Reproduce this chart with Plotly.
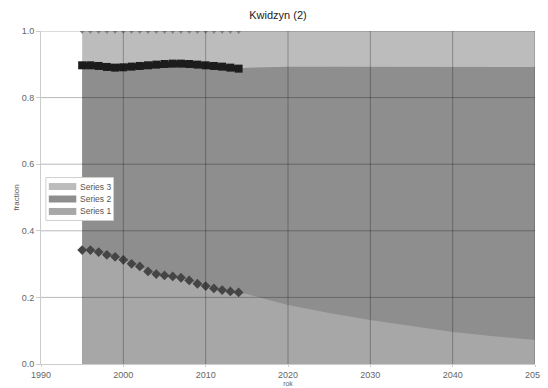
import plotly.graph_objects as go

# historical years with observed values
hist_years = list(range(1995, 2015))
# bottom band (Series 1) observed - diamonds
s1_hist = [0.342, 0.342, 0.336, 0.328, 0.322, 0.313, 0.301, 0.293, 0.278, 0.270,
           0.266, 0.263, 0.259, 0.251, 0.241, 0.234, 0.227, 0.222, 0.218, 0.215]
# top of middle band (Series 2) observed - squares
s2_hist = [0.897, 0.897, 0.895, 0.892, 0.890, 0.891, 0.893, 0.895, 0.897, 0.899,
           0.901, 0.902, 0.902, 0.901, 0.899, 0.897, 0.895, 0.893, 0.890, 0.887]
# top band (Series 3) observed - triangles
s3_hist = [1.0] * 20

# projection
proj_years = [2015, 2020, 2025, 2030, 2035, 2040, 2045, 2050]
s1_proj = [0.210, 0.177, 0.153, 0.132, 0.113, 0.096, 0.083, 0.072]
s2_proj = [0.890, 0.893, 0.893, 0.893, 0.893, 0.892, 0.892, 0.892]
s3_proj = [1.0] * 8

series_names = ["Series 3", "Series 2", "Series 1"]
x_ticks = [1990, 2000, 2010, 2020, 2030, 2040, 2050]
y_ticks = [0.0, 0.2, 0.4, 0.6, 0.8, 1.0]

C3, C2, C1 = "#bcbcbc", "#8e8e8e", "#a7a7a7"
colors = [C3, C2, C1]

fig = go.Figure()
years = hist_years + proj_years
for name, hist, proj, col in zip(series_names,
                                 (s3_hist, s2_hist, s1_hist),
                                 (s3_proj, s2_proj, s1_proj), colors):
    fig.add_trace(go.Scatter(
        x=years, y=hist + proj, name=name, mode="lines",
        line=dict(width=0, color=col), fill="tozeroy", fillcolor=col,
        hoverinfo="skip", showlegend=False,
    ))

# observed markers
fig.add_trace(go.Scatter(
    x=hist_years, y=s3_hist, mode="markers", showlegend=False,
    marker=dict(symbol="triangle-down", size=6, color="#858585"),
))
fig.add_trace(go.Scatter(
    x=hist_years, y=s2_hist, mode="lines+markers", showlegend=False,
    line=dict(color="#1c1c1c", width=6),
    marker=dict(symbol="square", size=8, color="#1c1c1c"),
))
fig.add_trace(go.Scatter(
    x=hist_years, y=s1_hist, mode="markers", showlegend=False,
    marker=dict(symbol="diamond", size=7.5, color="#454545"),
))

# grid drawn over the areas
grid = "rgba(0,0,0,0.28)"
for xv in x_ticks[1:]:
    fig.add_shape(type="line", xref="x", yref="y", x0=xv, x1=xv, y0=0, y1=1,
                  line=dict(color=grid, width=1), layer="above")
for yv in y_ticks[1:]:
    fig.add_shape(type="line", xref="x", yref="y", x0=1990, x1=2050, y0=yv, y1=yv,
                  line=dict(color=grid, width=1), layer="above")

# compact legend box (paper coords; plot area is 504 x 334 px)
PW, PH = 504.0, 334.0
def px(dx):
    return dx / PW
def py(dy):
    return dy / PH

lx0, lx1 = px(5), px(74)
ly0, ly1 = py(144), py(187)
fig.add_shape(type="rect", xref="paper", yref="paper", x0=lx0, x1=lx1, y0=ly0, y1=ly1,
              fillcolor="white", line=dict(color="#cfcfcf", width=1), layer="above")
for i, (name, col) in enumerate(zip(series_names, colors)):
    yc = py(178 - 12.5 * i)
    fig.add_shape(type="rect", xref="paper", yref="paper",
                  x0=px(8), x1=px(36), y0=yc - py(3.5), y1=yc + py(3.5),
                  fillcolor=col, line=dict(width=0), layer="above")
    fig.add_annotation(xref="paper", yref="paper", x=px(38), y=yc, text=name,
                       showarrow=False, xanchor="left", yanchor="middle",
                       font=dict(size=8.5, color="#555"))

# page body keeps its default 8px margin, so the figure is 8px smaller
fig.update_layout(
    width=540, height=380,
    margin=dict(l=33, r=3, t=23, b=23),
    paper_bgcolor="white", plot_bgcolor="white",
    font=dict(family="Liberation Sans, Arial, sans-serif", size=9, color="#555"),
    title=dict(text="Kwidzyn (2)", x=0.5, xanchor="center", y=0.982, yanchor="middle",
               font=dict(size=11, color="#222")),
    showlegend=False,
    xaxis=dict(range=[1990, 2050], tickvals=x_ticks, showgrid=False,
               showline=True, linecolor="#cccccc", zeroline=False,
               ticks="outside", ticklen=2, tickcolor="#cccccc",
               ticklabeloverflow="allow",
               tickfont=dict(size=9, color="#666"),
               title=dict(text="rok", font=dict(size=7, color="#666"), standoff=0)),
    yaxis=dict(range=[0, 1.0], tickvals=y_ticks, tickformat=".1f", showgrid=False,
               showline=True, linecolor="#cccccc", zeroline=False,
               ticks="outside", ticklen=4, tickcolor="#cccccc",
               tickfont=dict(size=9, color="#666"),
               title=dict(text="fraction", font=dict(size=8, color="#555"), standoff=0)),
)

fig.write_html("out.html", config={"displayModeBar": False})
